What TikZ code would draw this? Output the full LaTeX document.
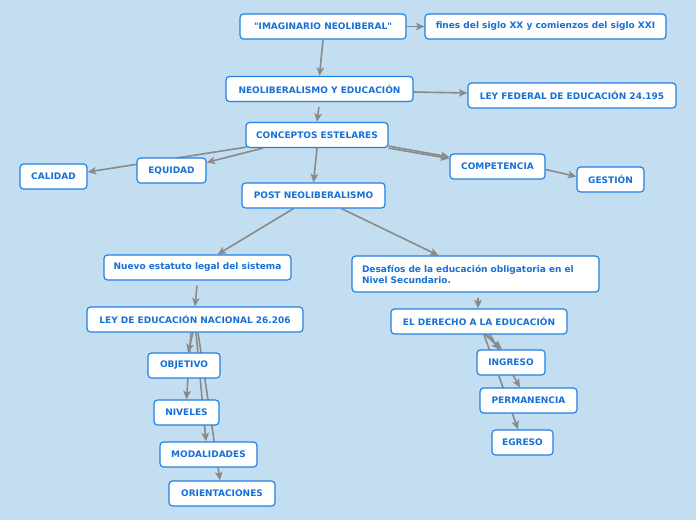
\documentclass[tikz,border=0pt]{standalone}
\usepackage{fontspec}
\setmainfont{DejaVu Sans}[Ligatures=TeXOff]
\usetikzlibrary{arrows.meta}
\definecolor{bgc}{RGB}{194,222,240}
\definecolor{bordc}{RGB}{35,128,228}
\definecolor{txtc}{RGB}{22,112,214}
\definecolor{arrc}{RGB}{138,138,138}
\pgfdeclarelayer{bglayer}
\pgfdeclarelayer{edges}
\pgfsetlayers{bglayer,edges,main}
\tikzset{
  box/.style={draw=bordc, fill=white, line width=1.2pt, rounded corners=3.5pt,
    text=txtc, font=\fontsize{9}{11}\selectfont\bfseries, inner sep=0pt, minimum height=25pt},
  conn/.style={draw=arrc, line width=1.6pt, -{Stealth[length=8.5pt,width=7.5pt,inset=2pt]}}
}
\begin{document}
\begin{tikzpicture}[x=1pt,y=-1pt]
\begin{pgfonlayer}{bglayer}
\fill[bgc] (0,0) rectangle (696,520);
\end{pgfonlayer}
\useasboundingbox (0,0) rectangle (696,520);
\node[box, minimum width=166pt] (imag) at (323,26.5) {"IMAGINARIO NEOLIBERAL"};
\node[box, minimum width=241pt] (fines) at (545.5,26.5) {fines del siglo XX y comienzos del siglo XXI};
\node[box, minimum width=187pt] (neo) at (319.5,89) {NEOLIBERALISMO Y EDUCACIÓN};
\node[box, minimum width=208pt] (leyfed) at (572,95.5) {LEY FEDERAL DE EDUCACIÓN 24.195};
\node[box, minimum width=142pt] (conc) at (317,135) {CONCEPTOS ESTELARES};
\node[box, minimum width=69pt] (equ) at (171.5,170.5) {EQUIDAD};
\node[box, minimum width=67pt] (cal) at (53.5,176.5) {CALIDAD};
\node[box, minimum width=95pt] (comp) at (497.5,166.5) {COMPETENCIA};
\node[box, minimum width=67pt] (gest) at (610.5,179.5) {GESTIÓN};
\node[box, minimum width=143pt] (post) at (313.5,195.5) {POST NEOLIBERALISMO};
\node[box, minimum width=187pt] (nue) at (197.5,267.5) {Nuevo estatuto legal del sistema};
\node[box, minimum width=216pt] (leynac) at (195,319.5) {LEY DE EDUCACIÓN NACIONAL 26.206};
\node[box, minimum width=72pt] (obj) at (184,365.5) {OBJETIVO};
\node[box, minimum width=65pt] (niv) at (186.5,412.5) {NIVELES};
\node[box, minimum width=97pt] (mod) at (208.5,454.5) {MODALIDADES};
\node[box, minimum width=106pt] (ori) at (222,493.5) {ORIENTACIONES};
\node[box, minimum width=247pt, minimum height=36pt, text width=227pt, align=left] (des) at (475.5,274)
  {Desafíos de la educación obligatoria en el\\Nivel Secundario.};
\node[box, minimum width=176pt] (der) at (479,321.5) {EL DERECHO A LA EDUCACIÓN};
\node[box, minimum width=68pt] (ing) at (511,362.5) {INGRESO};
\node[box, minimum width=97pt] (per) at (528.5,400.5) {PERMANENCIA};
\node[box, minimum width=61pt] (egr) at (522.5,442.5) {EGRESO};
\begin{pgfonlayer}{edges}
\draw[conn] (imag.east) -- (fines.west);
\draw[conn] (imag.south) -- (neo.north);
\draw[conn] ([yshift=-3pt]neo.east) -- ([yshift=2.5pt]leyfed.west);
\draw[conn, shorten <=5pt] (neo.south) -- (conc.north);
\draw[conn] ([xshift=-54pt]conc.south) -- ([yshift=8pt]equ.east);
\draw[conn] ([xshift=1pt,yshift=1pt]conc.south west) -- ([yshift=4.5pt]cal.east);
\draw[conn] (conc.south) -- (post.north);
\draw[conn] ([yshift=2pt]conc.south east) -- ([yshift=9.5pt]comp.west);
\draw[conn] ([yshift=0pt]conc.south east) -- ([yshift=8pt]comp.west);
\draw[conn] ([yshift=-3pt]comp.east) -- ([yshift=3pt]gest.west);
\draw[conn] ([xshift=-20pt]post.south) -- ([xshift=20pt]nue.north);
\draw[conn] ([xshift=28pt]post.south) -- ([xshift=-37pt]des.north);
\draw[conn, shorten <=5pt] (nue.south) -- (leynac.north);
\draw[conn] ([xshift=-2pt]leynac.south) -- ([xshift=4pt]obj.north);
\draw[conn] ([xshift=-4pt]leynac.south) -- (niv.north);
\draw[conn] ([xshift=1pt]leynac.south) -- ([xshift=-2.5pt]mod.north);
\draw[conn] ([xshift=3pt]leynac.south) -- ([xshift=-2pt]ori.north);
\draw[conn, shorten <=5pt] ([xshift=2.5pt]des.south) -- ([xshift=-1pt]der.north);
\draw[conn] ([xshift=8pt]der.south) -- ([xshift=-11pt]ing.north);
\draw[conn] ([xshift=6pt]der.south) -- ([xshift=-9pt]ing.north);
\draw[conn] ([xshift=11pt]der.south) -- ([xshift=-8.5pt]per.north);
\draw[conn] ([xshift=5pt]der.south) -- ([xshift=-4.5pt]egr.north);
\end{pgfonlayer}
\end{tikzpicture}
\end{document}
